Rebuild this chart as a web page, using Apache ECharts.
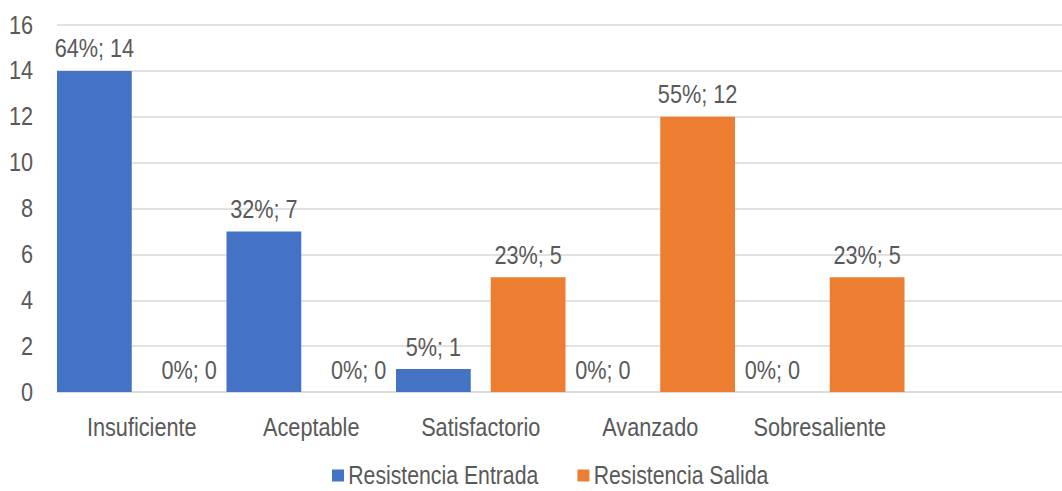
<!DOCTYPE html>
<html>
<head>
<meta charset="utf-8">
<script src="https://cdn.jsdelivr.net/npm/echarts@6/dist/echarts.min.js"></script>
<style>
  html, body { margin: 0; padding: 0; background: #ffffff; overflow: hidden; }
  #frame { width: 1062px; height: 491px; overflow: hidden; position: relative; }
  /* the chart is laid out wider and squeezed horizontally for a narrow type face */
  #chart { width: 1264px; height: 491px; transform: scaleX(0.85); transform-origin: 0 0; }
</style>
</head>
<body>
<div id="frame"><div id="chart"></div></div>
<script>
// Levels of the rubric; the trailing empty slot keeps the spacing of the layout
const categories = ['Insuficiente', 'Aceptable', 'Satisfactorio', 'Avanzado', 'Sobresaliente', ''];
const entrada = [14, 7, 1, 0, 0];
const salida = [0, 0, 5, 12, 5];
const seriesNames = ['Resistencia Entrada', 'Resistencia Salida'];
const yTicks = { min: 0, max: 16, interval: 2 };

const SX = 0.85;                       // horizontal squeeze of the frame
const px = v => v / SX;                // screen x-length -> layout x-length
const FONT = "'Liberation Sans', Arial, sans-serif";
const FS = 25.5;
const TEXT = '#595959';
const GRID = '#d9d9d9';

const sum = arr => arr.reduce((a, b) => a + b, 0);
const pctLabel = total => p => Math.round(p.value / total * 100) + '%; ' + p.value;

const chart = echarts.init(document.getElementById('chart'), null, { renderer: 'svg' });

function barSeries(name, data, color) {
  return {
    name: name,
    type: 'bar',
    data: data,
    barGap: '26.7%',
    barCategoryGap: '0%',
    itemStyle: { color: color },
    label: {
      show: true,
      position: 'top',
      distance: 9,
      formatter: pctLabel(sum(data)),
      fontFamily: FONT,
      fontSize: FS,
      color: TEXT
    }
  };
}

chart.setOption({
  animation: false,
  textStyle: { fontFamily: FONT },
  grid: { left: px(57), top: 25, width: px(1017), height: 367, containLabel: false },
  legend: {
    data: seriesNames,
    left: px(332),
    top: 463,
    padding: 0,
    icon: 'rect',
    itemWidth: px(12),
    itemHeight: 12,
    itemGap: px(39),
    textStyle: { fontFamily: FONT, fontSize: 25, lineHeight: 25, color: TEXT }
  },
  xAxis: {
    type: 'category',
    data: categories,
    axisTick: { show: false },
    axisLine: { lineStyle: { color: GRID, width: 1.5 } },
    axisLabel: { fontFamily: FONT, fontSize: FS, color: TEXT, margin: 22, interval: 0 }
  },
  yAxis: {
    type: 'value',
    min: yTicks.min,
    max: yTicks.max,
    interval: yTicks.interval,
    axisLine: { show: false },
    axisTick: { show: false },
    splitLine: { lineStyle: { color: GRID, width: 1.5 } },
    axisLabel: { fontFamily: FONT, fontSize: FS, color: TEXT, margin: px(24) }
  },
  series: [
    barSeries(seriesNames[0], entrada, '#4472c4'),
    barSeries(seriesNames[1], salida, '#ed7d31')
  ]
});
</script>
</body>
</html>
